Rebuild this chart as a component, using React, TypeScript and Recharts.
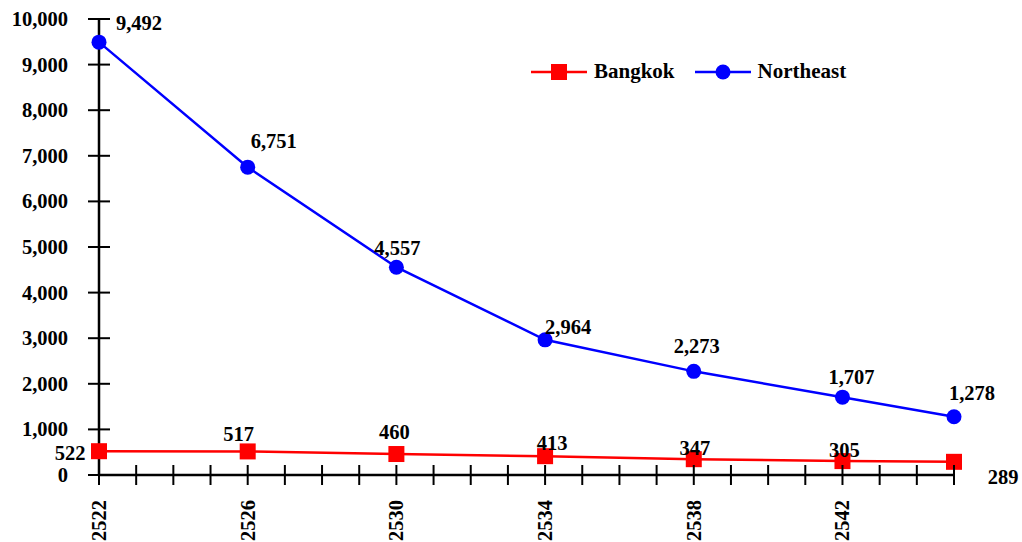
import React from 'react';
import { LineChart, Line, XAxis, YAxis, Legend, LabelList } from 'recharts';

// Buddhist-era survey years
const years = [2522, 2526, 2530, 2534, 2538, 2542, 2545];
const bangkok = [522, 517, 460, 413, 347, 305, 289];
const northeast = [9492, 6751, 4557, 2964, 2273, 1707, 1278];

// Axis ticks: one per year on the x axis, labelled every fourth year
const yearTicks = [
  2522, 2523, 2524, 2525, 2526, 2527, 2528, 2529, 2530, 2531, 2532, 2533,
  2534, 2535, 2536, 2537, 2538, 2539, 2540, 2541, 2542, 2543, 2544, 2545,
];
const labelledYears = [2522, 2526, 2530, 2534, 2538, 2542];
const valueTicks = [0, 1000, 2000, 3000, 4000, 5000, 6000, 7000, 8000, 9000, 10000];

const data = years.map((year, i) => ({
  year,
  Bangkok: bangkok[i],
  Northeast: northeast[i],
}));

// Value label placement relative to each point (dx, dy)
const northeastLabelOffsets: [number, number][] = [
  [40, -19], [26, -26], [1, -19], [23, -13], [3, -25], [9, -20], [18, -24],
];
const bangkokLabelOffsets: [number, number][] = [
  [-29, 2], [-9, -17], [-2, -22], [7, -13], [1, -11], [2, -11], [49, 15],
];

const FONT = 'Liberation Serif, Times New Roman, serif';
const fmt = (v: number) => v.toLocaleString('en-US');

const textStyle = {
  fontFamily: FONT,
  fontWeight: 700,
  fontSize: 20.5,
  fill: '#000',
};

const YTick = (props: any) => {
  const { x, y, payload } = props;
  return (
    <g>
      <line x1={x - 11} x2={x + 11} y1={y} y2={y} stroke="#000" strokeWidth={2} />
      <text x={x - 31} y={y} textAnchor="end" dominantBaseline="central" style={textStyle}>
        {fmt(payload.value)}
      </text>
    </g>
  );
};

const XTick = (props: any) => {
  const { x, y, payload } = props;
  const show = labelledYears.includes(payload.value);
  return (
    <g>
      <line x1={x} x2={x} y1={y - 10} y2={y + 10} stroke="#000" strokeWidth={2} />
      {show && (
        <text
          x={x}
          y={y + 25}
          transform={`rotate(-90, ${x}, ${y + 25})`}
          textAnchor="end"
          dominantBaseline="central"
          style={textStyle}
        >
          {payload.value}
        </text>
      )}
    </g>
  );
};

const makeLabel = (offsets: [number, number][]) => (props: any) => {
  const { x, y, value, index } = props;
  const [dx, dy] = offsets[index] || [0, -15];
  return (
    <text x={x + dx} y={y + dy} textAnchor="middle" dominantBaseline="central" style={textStyle}>
      {fmt(value)}
    </text>
  );
};

const SquareDot = (props: any) => {
  const { cx, cy, index } = props;
  return <rect key={`sq-${index}`} x={cx - 8} y={cy - 8} width={16} height={16} fill="#ff0000" />;
};

const CircleDot = (props: any) => {
  const { cx, cy, index } = props;
  return <circle key={`c-${index}`} cx={cx} cy={cy} r={7.5} fill="#0000ff" />;
};

const LegendContent = (props: any) => {
  const { payload } = props;
  return (
    <div style={{ display: 'flex', alignItems: 'center' }}>
      {(payload || []).map((entry: any) => (
        <div key={entry.value} style={{ display: 'flex', alignItems: 'center', marginRight: 20 }}>
          <svg width={56} height={18} style={{ display: 'block' }}>
            <line x1={0} x2={56} y1={9} y2={9} stroke={entry.color} strokeWidth={2.5} />
            {entry.value === 'Bangkok' ? (
              <rect x={20} y={1} width={16} height={16} fill={entry.color} />
            ) : (
              <circle cx={28} cy={9} r={7.5} fill={entry.color} />
            )}
          </svg>
          <span
            style={{
              fontFamily: FONT,
              fontWeight: 700,
              fontSize: 21,
              color: '#000',
              marginLeft: 7,
            }}
          >
            {entry.value}
          </span>
        </div>
      ))}
    </div>
  );
};

export default function App() {
  return (
    <div style={{ position: 'absolute', left: 0, top: 0, background: '#fff' }}>
      <LineChart
        width={1022}
        height={542}
        data={data}
        margin={{ top: 19, right: 68, bottom: 0, left: 0 }}
      >
        <XAxis
          dataKey="year"
          type="number"
          domain={[2522, 2545]}
          ticks={yearTicks}
          interval={0}
          height={67}
          tickSize={0}
          tickMargin={0}
          tickLine={false}
          axisLine={{ stroke: '#000', strokeWidth: 2.5 }}
          tick={<XTick />}
        />
        <YAxis
          type="number"
          domain={[0, 10000]}
          ticks={valueTicks}
          interval={0}
          width={99}
          tickSize={0}
          tickMargin={0}
          tickLine={false}
          axisLine={{ stroke: '#000', strokeWidth: 2.5 }}
          tick={<YTick />}
        />
        <Legend
          layout="horizontal"
          verticalAlign="middle"
          align="center"
          content={<LegendContent />}
          wrapperStyle={{ position: 'absolute', left: 531, top: 59, width: 'auto' }}
        />
        <Line
          dataKey="Bangkok"
          stroke="#ff0000"
          strokeWidth={2.5}
          dot={<SquareDot />}
          activeDot={false}
          isAnimationActive={false}
        >
          <LabelList dataKey="Bangkok" content={makeLabel(bangkokLabelOffsets)} />
        </Line>
        <Line
          dataKey="Northeast"
          stroke="#0000ff"
          strokeWidth={2.5}
          dot={<CircleDot />}
          activeDot={false}
          isAnimationActive={false}
        >
          <LabelList dataKey="Northeast" content={makeLabel(northeastLabelOffsets)} />
        </Line>
      </LineChart>
    </div>
  );
}
